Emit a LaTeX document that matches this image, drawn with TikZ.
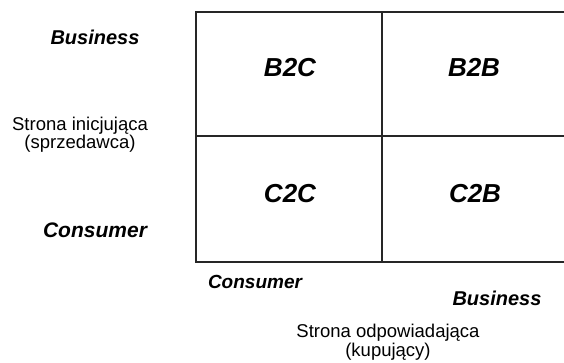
\documentclass[tikz,border=0pt]{standalone}
\usepackage{fontspec}
\setmainfont{Liberation Sans}
\begin{document}
\begin{tikzpicture}[x=1pt,y=-1pt,
  gridline/.style={line width=1.4pt, draw=black!85},
  cell/.style={font=\fontsize{26}{29}\selectfont\bfseries\itshape, anchor=base, inner sep=0pt},
  axislbl/.style={font=\fontsize{20}{23}\selectfont\bfseries\itshape, anchor=base, inner sep=0pt},
  side/.style={font=\fontsize{18.5}{15}\selectfont, align=center, anchor=base, inner sep=0pt}]
\useasboundingbox (0,0) rectangle (564,363);
% grid
\coordinate (tl) at (196,12);
\coordinate (ml) at (196,136);
\coordinate (bl) at (196,262);
\coordinate (tm) at (382,12);
\coordinate (bm) at (382,262);
\coordinate (tr) at (567,12);
\coordinate (mr) at (567,136);
\coordinate (br) at (567,262);
\draw[gridline] (tr) -- (tl) -- (bl) -- (br) -- cycle;
\draw[gridline] (ml) -- (mr);
\draw[gridline] (tm) -- (bm);
% cells
\node[cell] (b2c) at (290,77) {B2C};
\node[cell] (b2b) at (474,77) {B2B};
\node[cell] (c2c) at (290,203) {C2C};
\node[cell] (c2b) at (475,203) {C2B};
% axis labels
\node[axislbl] (lbus) at (95,45) {Business};
\node[axislbl, font=\fontsize{21}{24}\selectfont\bfseries\itshape] (lcon) at (95,237) {Consumer};
\node[axislbl, font=\fontsize{19}{22}\selectfont\bfseries\itshape] (bcon) at (255,288) {Consumer};
\node[axislbl] (bbus) at (497,305) {Business};
% side titles
\node[side] (init) at (80,149) {Strona inicjująca\\(sprzedawca)};
\node[side] (resp) at (388,356) {Strona odpowiadająca\\(kupujący)};
\end{tikzpicture}
\end{document}
